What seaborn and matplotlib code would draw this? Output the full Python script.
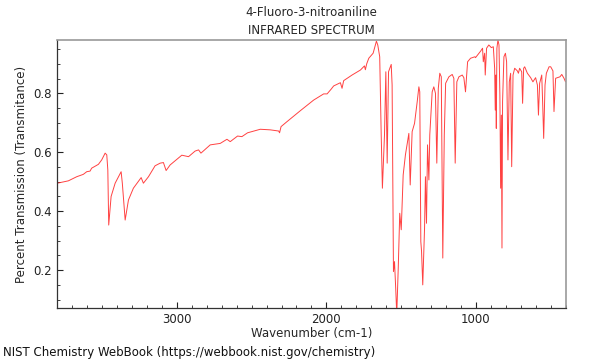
import matplotlib
matplotlib.use("Agg")
import matplotlib.pyplot as plt
from matplotlib.ticker import MultipleLocator
import seaborn as sns
import pandas as pd

wavenumber = [3800, 3726, 3670, 3626, 3603, 3581, 3570, 3525, 3503, 3480, 3469, 3462, 3456,
              3440, 3413, 3373, 3365, 3346, 3324, 3291, 3239, 3224, 3190, 3146, 3112, 3090,
              3072, 3045, 2967, 2922, 2878, 2855, 2839, 2777, 2710, 2665, 2643, 2594, 2565,
              2527, 2442, 2375, 2319, 2313, 2303, 2263, 2174, 2085, 2018, 1995, 1968, 1951,
              1906, 1895, 1884, 1828, 1772, 1745, 1739, 1730, 1716, 1687, 1665, 1656, 1643,
              1633, 1625, 1611, 1602, 1593, 1584, 1566, 1560, 1551, 1544, 1536, 1529, 1519,
              1509, 1499, 1486, 1471, 1448, 1439, 1426, 1410, 1392, 1381, 1375, 1368, 1363,
              1355, 1343, 1337, 1330, 1323, 1314, 1308, 1292, 1281, 1270, 1261, 1251, 1241,
              1231, 1221, 1211, 1202, 1180, 1158, 1147, 1138, 1127, 1113, 1091, 1080, 1069,
              1055, 1035, 1006, 1002, 968, 955, 950, 941, 937, 928, 913, 896, 883, 874, 870,
              866, 863, 859, 852, 845, 839, 834, 829, 825, 821, 812, 802, 794, 785, 776, 767,
              760, 751, 740, 722, 715, 707, 693, 687, 680, 673, 655, 633, 618, 600, 588, 581,
              573, 559, 553, 546, 537, 528, 510, 499, 484, 477, 466, 454, 437, 425, 410, 400]
transmittance = [0.495, 0.503, 0.517, 0.525, 0.534, 0.536, 0.546, 0.559, 0.574, 0.597, 0.591,
                 0.540, 0.353, 0.450, 0.495, 0.534, 0.495, 0.370, 0.438, 0.478, 0.514, 0.495,
                 0.517, 0.554, 0.563, 0.565, 0.538, 0.557, 0.590, 0.585, 0.604, 0.608, 0.597,
                 0.625, 0.630, 0.644, 0.636, 0.655, 0.653, 0.666, 0.678, 0.676, 0.672, 0.666,
                 0.687, 0.704, 0.741, 0.777, 0.798, 0.798, 0.814, 0.825, 0.836, 0.817, 0.843,
                 0.862, 0.879, 0.893, 0.880, 0.900, 0.919, 0.936, 0.977, 0.964, 0.924, 0.659,
                 0.478, 0.659, 0.873, 0.563, 0.873, 0.898, 0.828, 0.195, 0.229, 0.139, 0.050,
                 0.207, 0.393, 0.337, 0.523, 0.591, 0.664, 0.489, 0.670, 0.698, 0.772, 0.822,
                 0.805, 0.297, 0.263, 0.150, 0.342, 0.517, 0.359, 0.625, 0.506, 0.659, 0.805,
                 0.822, 0.800, 0.563, 0.817, 0.868, 0.856, 0.241, 0.659, 0.834, 0.856, 0.864,
                 0.851, 0.563, 0.839, 0.856, 0.862, 0.853, 0.805, 0.907, 0.919, 0.924, 0.921,
                 0.943, 0.953, 0.907, 0.936, 0.862, 0.953, 0.964, 0.955, 0.958, 0.885, 0.743,
                 0.862, 0.681, 0.953, 0.981, 0.964, 0.794, 0.478, 0.726, 0.275, 0.772, 0.924,
                 0.936, 0.907, 0.574, 0.839, 0.868, 0.551, 0.862, 0.885, 0.876, 0.868, 0.885,
                 0.873, 0.766, 0.885, 0.890, 0.868, 0.853, 0.839, 0.853, 0.828, 0.726, 0.834,
                 0.862, 0.771, 0.647, 0.828, 0.868, 0.890, 0.890, 0.876, 0.738, 0.851, 0.853,
                 0.856, 0.864, 0.851, 0.839]

title_lines = ["4-Fluoro-3-nitroaniline", "INFRARED SPECTRUM"]
x_label = "Wavenumber (cm-1)"
y_label = "Percent Transmission (Transmitance)"
footer = "NIST Chemistry WebBook (https://webbook.nist.gov/chemistry)"

sns.set_style("white")
plt.rcParams["font.family"] = ["DejaVu Sans"]

df = pd.DataFrame({"wn": wavenumber, "T": transmittance})

fig = plt.figure(figsize=(6, 3.6), dpi=100)
ax = fig.add_axes([0.095, 0.144, 0.848, 0.745])
sns.lineplot(data=df, x="wn", y="T", sort=False, estimator=None, ax=ax,
             color="#ff2020", lw=0.7, alpha=0.85)

ax.set_xlim(3802, 398)
ax.set_ylim(0.071, 0.981)
ax.xaxis.set_major_locator(MultipleLocator(1000))
ax.xaxis.set_minor_locator(MultipleLocator(100))
ax.yaxis.set_major_locator(MultipleLocator(0.2))
ax.yaxis.set_minor_locator(MultipleLocator(0.05))
ax.tick_params(which="both", direction="in", labelsize=8.5, colors="#222222")
ax.tick_params(which="major", length=4, width=0.8)
ax.tick_params(which="minor", length=2.5, width=0.6)
ax.tick_params(axis="x", which="both", bottom=True, top=False)
ax.tick_params(axis="y", which="both", left=True, right=False)
ax.set_xticklabels
ax.set_xlabel(x_label, fontsize=8.5, labelpad=1)
ax.set_ylabel(y_label, fontsize=8.5, labelpad=4)
ax.set_title("\n".join(title_lines), fontsize=8.5, linespacing=1.5, pad=4)

for side in ["top", "right"]:
    ax.spines[side].set_color("#999999")
    ax.spines[side].set_linewidth(1.2)
for side in ["left", "bottom"]:
    ax.spines[side].set_color("#333333")
    ax.spines[side].set_linewidth(0.9)

fig.text(0.005, 0.022, footer, fontsize=8.5, ha="left", va="center", color="#111111")

fig.savefig("out.png", dpi=100)
